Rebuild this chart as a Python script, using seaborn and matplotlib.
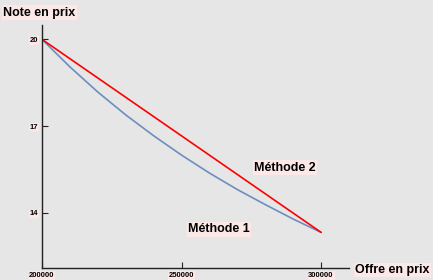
import matplotlib
matplotlib.use("Agg")
import matplotlib.pyplot as plt
import seaborn as sns
import pandas as pd

offers = [200000, 210000, 220000, 230000, 240000, 250000, 260000, 270000, 280000, 290000, 300000]
method1 = [20.0, 19.05, 18.18, 17.39, 16.67, 16.0, 15.38, 14.81, 14.29, 13.79, 13.33]
offers2 = [200000, 300000]
method2 = [20.0, 13.33]
xticks = [200000, 250000, 300000]
yticks = [14, 17, 20]

sns.set_theme(style="white")
plt.rcParams['font.family'] = ['Liberation Sans', 'DejaVu Sans']
plt.rcParams['text.color'] = 'black'

bg = "#e6e6e6"
fig = plt.figure(figsize=(4.33, 2.8), dpi=100, facecolor=bg)
ax = fig.add_axes([0.097, 0.043, 0.709, 0.868])
ax.set_facecolor(bg)

df1 = pd.DataFrame({"x": offers, "y": method1})
df2 = pd.DataFrame({"x": offers2, "y": method2})
sns.lineplot(data=df1, x="x", y="y", ax=ax, color="#6c8ebf", lw=1.2)
sns.lineplot(data=df2, x="x", y="y", ax=ax, color="#ff0000", lw=1.2)

ax.set_xlim(200000, 310000)
ax.set_ylim(12.1, 20.5)
ax.set_xticks(xticks)
ax.set_yticks(yticks)
ax.set_xticklabels([str(v) for v in xticks])
ax.set_yticklabels([str(v) for v in yticks])
for s in ["top", "right"]:
    ax.spines[s].set_visible(False)
for s in ["left", "bottom"]:
    ax.spines[s].set_color("#222222")
    ax.spines[s].set_linewidth(1.0)
ax.tick_params(axis="both", direction="in", length=4, width=0.8, color="#222222",
               labelsize=5.5, labelcolor="black", left=True, bottom=True)
ax.tick_params(axis="x", pad=3)
ax.tick_params(axis="y", pad=3)
for lbl in ax.get_xticklabels() + ax.get_yticklabels():
    lbl.set_fontweight("bold")
    lbl.set_bbox(dict(facecolor="#fde8e8", edgecolor="none", pad=0.5))
ax.set_xlabel("")
ax.set_ylabel("")

box = dict(facecolor="#fde8e8", edgecolor="none", pad=1)
fig.text(0.008, 0.955, "Note en prix", fontsize=9, fontweight="bold", ha="left", va="center", bbox=box, color="black")
fig.text(0.82, 0.036, "Offre en prix", fontsize=9, fontweight="bold", ha="left", va="center", bbox=box, color="black")
ax.text(287000, 15.56, "Méthode 2", fontsize=9, fontweight="bold", ha="center", va="center", bbox=box, color="black")
ax.text(263400, 13.44, "Méthode 1", fontsize=9, fontweight="bold", ha="center", va="center", bbox=box, color="black")

fig.savefig("out.png", dpi=100, facecolor=bg)
